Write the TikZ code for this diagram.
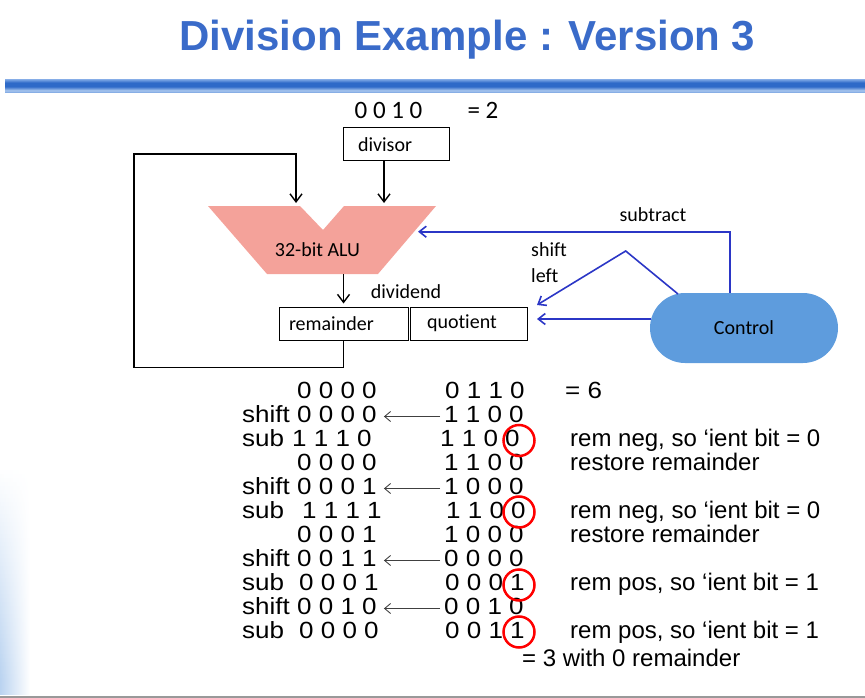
\documentclass[tikz,border=0pt]{standalone}
\usepackage{fontspec}
\setmainfont{Liberation Sans}
\newfontfamily\calfont[Ligatures=NoCommon]{Carlito}
\usetikzlibrary{arrows.meta,calc}
\definecolor{titleblue}{HTML}{3A6BC9}
\definecolor{alufill}{HTML}{F4A29A}
\definecolor{ctrlfill}{HTML}{5E9CDD}
\definecolor{ctlblue}{HTML}{2B36C6}
\definecolor{sideblue}{HTML}{BAD3F0}
\definecolor{bA}{HTML}{6A9BE0}
\definecolor{bB}{HTML}{3E78D2}
\definecolor{bC}{HTML}{A8C6EE}
\definecolor{bD}{HTML}{2E6AC8}
\definecolor{bE}{HTML}{8DB3EA}
\definecolor{bF}{HTML}{C5DAF5}
\pgfdeclareverticalshading{barshade}{100bp}{color(0bp)=(bA); color(15bp)=(bB); color(35bp)=(bC); color(50bp)=(bD); color(65bp)=(bD); color(80bp)=(bE); color(100bp)=(bF)}
\newcommand\sqz[1]{\scalebox{1}[0.9]{#1}}
\tikzset{
  lbl/.style={font=\calfont\fontsize{20}{20}\selectfont, inner sep=0},
  box/.style={draw, line width=1pt, minimum height=33, font=\calfont\fontsize{20}{20}\selectfont, align=left},
  arr/.style={draw, line width=1.4pt, -{Straight Barb[length=8pt,width=12pt]}},
  barr/.style={draw=ctlblue, line width=1.6pt, -{Straight Barb[length=7pt,width=11pt]}},
  tarr/.style={draw=black!75, line width=0.9pt, -{Straight Barb[length=6pt,width=10pt]}},
  tbl/.style={anchor=base west, inner sep=0, font=\fontsize{26}{26}\selectfont},
  cmt/.style={anchor=base west, inner sep=0, font=\fontsize{24}{24}\selectfont},
  ring/.style={draw=red, circle, line width=2.5pt, minimum size=31, inner sep=0}
}
\begin{document}
\begin{tikzpicture}[x=1pt,y=-1pt]
\useasboundingbox (0,0) rectangle (865,698);
% background decorations
\foreach \k in {0,...,56}{
  \pgfmathsetmacro{\p}{min(100,\k*1.9)}
  \fill[left color=sideblue!\p!white, right color=white, draw=none] (0,{466+4*\k}) rectangle (30,{470.5+4*\k});
}
\fill[shading=barshade] (5,80) rectangle (865,93);
\fill[black!40] (0,695.8) rectangle (865,698);
% title
\node[font=\bfseries\fontsize{42}{42}\selectfont, text=titleblue, inner sep=0] (title) at (467.5,40) {Division Example : Version 3};

% hardware diagram
\node[font=\calfont\fontsize{25}{25}\selectfont, inner sep=0] (dvval) at (388.5,110) {0 0 1 0};
\node[font=\calfont\fontsize{25}{25}\selectfont, inner sep=0] (dveq) at (483,110) {= 2};
\node[box, minimum width=106, text width=76, inner xsep=15] (dvs) at (396,144.5) {divisor};
\fill[alufill] (208,206) -- (300,206) -- (323,230) -- (344,206) -- (436,206) -- (378,274) -- (267,274) -- cycle;
\node[lbl] (alu) at (317.5,250) {32-bit ALU};
\coordinate (aluL) at (296,203);
\coordinate (aluR) at (384,203);
\coordinate (aluB) at (343.5,274);
\coordinate (aluS) at (418,231.7);
\node[box, minimum width=129, text width=109, inner xsep=10] (rem) at (343.5,323.5) {remainder};
\node[box, minimum width=117, text width=83, inner xsep=17] (quo) at (468.5,323.5) {quotient};
\node[lbl] (dvd) at (406,292) {dividend};
\draw[arr] (dvs.south -| aluR) -- (aluR);
\draw[arr] (aluB) -- ($(rem.north)+(0,-3)$);
\draw[arr] (rem.south) -- ++(0,27) -| (134,154) -| (aluL);

% control
\node[fill=ctrlfill, rounded corners=35, minimum width=188, minimum height=70, font=\calfont\fontsize{20}{20}\selectfont] (ctrl) at (744,328) {Control};
\coordinate (cs) at (730,293);
\coordinate (cl) at (678,294);
\coordinate (cpk) at (625.7,251);
\coordinate (ctip) at (537,305);
\coordinate (cq) at (651,319);
\coordinate (qtip) at (537,319);
\draw[barr] (cs) |- (aluS);
\draw[barr] (cl) -- (cpk) -- (ctip);
\draw[barr] (cq) -- (qtip);
\node[lbl] (sub) at (653,215) {subtract};
\node[lbl, anchor=west] (shf) at (531,250) {shift};
\node[lbl, anchor=west] (lft) at (531,276) {left};

% table
\node[tbl] (l1) at (297,398) {\sqz{0 0 0 0}};
\node[tbl] (r1) at (445,398) {\sqz{0 1 1 0}};
\node[tbl] (e6) at (565,398) {\sqz{= 6}};

\node[tbl] (w2) at (242,422) {\sqz{shift}};
\node[tbl] (l2) at (297,422) {\sqz{0 0 0 0}};
\node[tbl] (r2) at (444,422) {\sqz{1 1 0 0}};

\node[tbl] (w3) at (242,446) {\sqz{sub}};
\node[tbl] (l3) at (292,446) {\sqz{1 1 1 0}};
\node[tbl] (r3) at (440,446) {\sqz{1 1 0 0}};
\node[cmt] (c3) at (570,446) {rem neg, so ‘ient bit = 0};

\node[tbl] (l4) at (297,470) {\sqz{0 0 0 0}};
\node[tbl] (r4) at (444,470) {\sqz{1 1 0 0}};
\node[cmt] (c4) at (570,470) {restore remainder};

\node[tbl] (w5) at (242,494) {\sqz{shift}};
\node[tbl] (l5) at (297,494) {\sqz{0 0 0 1}};
\node[tbl] (r5) at (444,494) {\sqz{1 0 0 0}};

\node[tbl] (w6) at (242,518) {\sqz{sub}};
\node[tbl] (l6) at (302,518) {\sqz{1 1 1 1}};
\node[tbl] (r6) at (446,518) {\sqz{1 1 0 0}};
\node[cmt] (c6) at (570,518) {rem neg, so ‘ient bit = 0};

\node[tbl] (l7) at (297,542) {\sqz{0 0 0 1}};
\node[tbl] (r7) at (444,542) {\sqz{1 0 0 0}};
\node[cmt] (c7) at (570,542) {restore remainder};

\node[tbl] (w8) at (242,566) {\sqz{shift}};
\node[tbl] (l8) at (297,566) {\sqz{0 0 1 1}};
\node[tbl] (r8) at (444,566) {\sqz{0 0 0 0}};

\node[tbl] (w9) at (242,590) {\sqz{sub}};
\node[tbl] (l9) at (299,590) {\sqz{0 0 0 1}};
\node[tbl] (r9) at (445,590) {\sqz{0 0 0 1}};
\node[cmt] (c9) at (570,590) {rem pos, so ‘ient bit = 1};

\node[tbl] (w10) at (242,614) {\sqz{shift}};
\node[tbl] (l10) at (297,614) {\sqz{0 0 1 0}};
\node[tbl] (r10) at (444,614) {\sqz{0 0 1 0}};

\node[tbl] (w11) at (242,638) {\sqz{sub}};
\node[tbl] (l11) at (299,638) {\sqz{0 0 0 0}};
\node[tbl] (r11) at (445,638) {\sqz{0 0 1 1}};
\node[cmt] (c11) at (570,638) {rem pos, so ‘ient bit = 1};

\node[cmt] (fin) at (522,666) {= 3 with 0 remainder};

\foreach \r in {2,5,8,10}{
  \draw[tarr] ($(r\r.base west)+(-4,-5.5)$) -- ($(l\r.base east)+(7,-5.5)$);
}
\node[ring] (o3) at (519,440.5) {};
\node[ring] (o6) at (519,512) {};
\node[ring] (o9) at (519,585) {};
\node[ring] (o11) at (519,632) {};
\end{tikzpicture}
\end{document}
